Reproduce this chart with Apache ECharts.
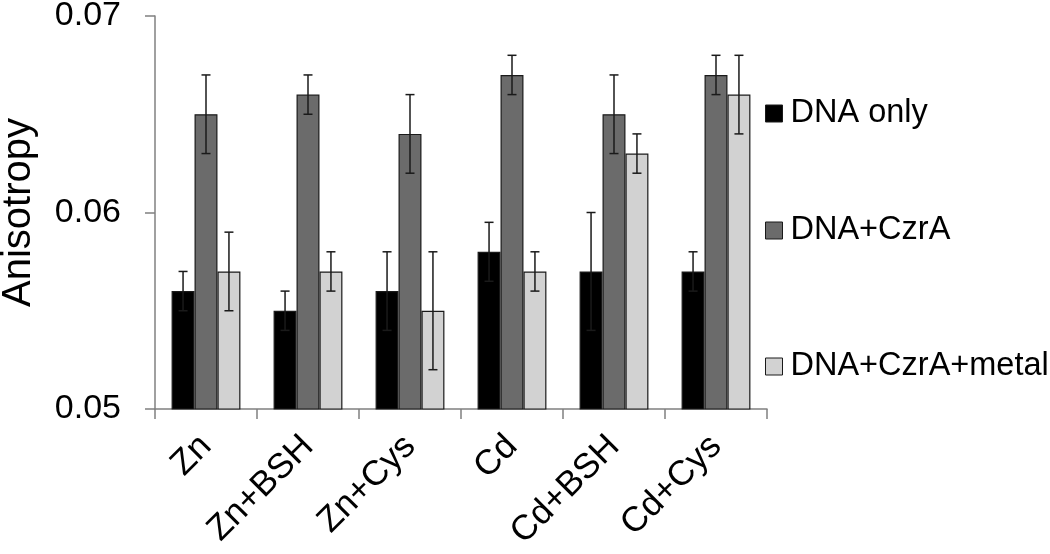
<!DOCTYPE html>
<html><head><meta charset="utf-8">
<script src="https://cdn.jsdelivr.net/npm/echarts@6/dist/echarts.min.js"></script>
<style>html,body{margin:0;padding:0;background:#fff}#c{width:1050px;height:554px}</style>
</head><body><div id="c"></div>
<script>
const categories = ['Zn', 'Zn+BSH', 'Zn+Cys', 'Cd', 'Cd+BSH', 'Cd+Cys'];
const seriesNames = ['DNA only', 'DNA+CzrA', 'DNA+CzrA+metal'];
const dnaOnly = [0.056, 0.055, 0.056, 0.058, 0.057, 0.057];
const dnaOnlyErr = [0.001, 0.001, 0.002, 0.0015, 0.003, 0.001];
const dnaCzrA = [0.065, 0.066, 0.064, 0.067, 0.065, 0.067];
const dnaCzrAErr = [0.002, 0.001, 0.002, 0.001, 0.002, 0.001];
const dnaCzrAMetal = [0.057, 0.057, 0.055, 0.057, 0.063, 0.066];
const dnaCzrAMetalErr = [0.002, 0.001, 0.003, 0.001, 0.001, 0.002];
const yTicks = [0.05, 0.06, 0.07];

const values = [dnaOnly, dnaCzrA, dnaCzrAMetal];
const errs = [dnaOnlyErr, dnaCzrAErr, dnaCzrAMetalErr];
const colors = ['#000000', '#6b6b6b', '#d2d2d2'];
const BW = 0.225;
const font = 'Liberation Sans, Arial, sans-serif';

const barSeries = values.map((v, i) => ({
  name: seriesNames[i], type: 'bar', data: v, barWidth: (BW * 100) + '%', barGap: '0%',
  itemStyle: { color: colors[i], borderColor: '#1a1a1a', borderWidth: 1.2 },
  z: 2
}));

const errSeries = values.map((v, i) => ({
  type: 'custom', name: 'err' + i, z: 5, silent: true,
  data: v.map((val, k) => [k, val - errs[i][k], val + errs[i][k]]),
  renderItem: function (params, api) {
    const k = api.value(0);
    const catW = api.size([1, 0])[0];
    const off = (i - 1) * BW * catW;
    const lo = api.coord([k, api.value(1)]);
    const hi = api.coord([k, api.value(2)]);
    const x = lo[0] + off;
    const cw = 4.5;
    const st = { stroke: '#1a1a1a', lineWidth: 1.5 };
    return { type: 'group', children: [
      { type: 'line', shape: { x1: x, y1: lo[1], x2: x, y2: hi[1] }, style: st },
      { type: 'line', shape: { x1: x - cw, y1: lo[1], x2: x + cw, y2: lo[1] }, style: st },
      { type: 'line', shape: { x1: x - cw, y1: hi[1], x2: x + cw, y2: hi[1] }, style: st }
    ]};
  }
}));

const legendTops = [97, 214, 350];
const legends = seriesNames.map((n, i) => ({
  orient: 'vertical', left: 760, top: legendTops[i], padding: [0, 5],
  itemWidth: 17, itemHeight: 17, icon: 'rect',
  data: [{ name: n, itemStyle: { color: colors[i], borderColor: '#1a1a1a', borderWidth: 1 } }],
  textStyle: { fontSize: 32.5, color: '#000', fontFamily: font, padding: [0, 0, 0, 3] }
}));

const chart = echarts.init(document.getElementById('c'), null, { renderer: 'canvas' });
chart.setOption({
  animation: false,
  backgroundColor: '#fff',
  textStyle: { fontFamily: font },
  grid: { left: 155, right: 283, top: 16, bottom: 145, containLabel: false, outerBoundsMode: 'none' },
  legend: legends,
  xAxis: {
    type: 'category', data: categories, boundaryGap: true,
    axisLine: { lineStyle: { color: '#808080', width: 1.5 } },
    axisTick: { show: true, length: 10, alignWithLabel: false, lineStyle: { color: '#808080', width: 1.5 } },
    axisLabel: { rotate: 45, fontSize: 35, color: '#000', margin: 32, fontFamily: font, interval: 0 }
  },
  yAxis: {
    type: 'value', min: yTicks[0], max: yTicks[yTicks.length - 1], interval: 0.01,
    name: 'Anisotropy', nameLocation: 'middle', nameGap: 116, nameRotate: 90,
    nameTextStyle: { fontSize: 40, color: '#000', fontFamily: font },
    axisLine: { show: true, lineStyle: { color: '#808080', width: 1.5 } },
    axisTick: { show: true, length: 10, lineStyle: { color: '#808080', width: 1.5 } },
    splitLine: { show: false },
    axisLabel: { fontSize: 34, color: '#000', margin: 34, fontFamily: font,
      formatter: v => v.toFixed(2) }
  },
  series: barSeries.concat(errSeries)
});
</script></body></html>
